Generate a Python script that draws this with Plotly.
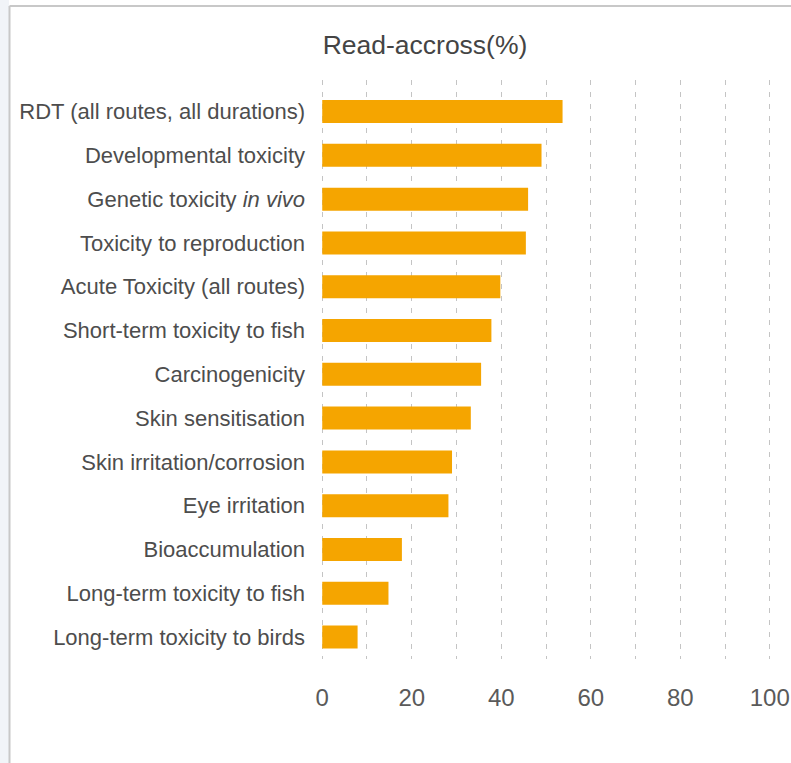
import plotly.graph_objects as go

categories = [
    "RDT (all routes, all durations)",
    "Developmental toxicity",
    "Genetic toxicity <i>in vivo</i>",
    "Toxicity to reproduction",
    "Acute Toxicity (all routes)",
    "Short-term toxicity to fish",
    "Carcinogenicity",
    "Skin sensitisation",
    "Skin irritation/corrosion",
    "Eye irritation",
    "Bioaccumulation",
    "Long-term toxicity to fish",
    "Long-term toxicity to birds",
]
values = [53.7, 49.0, 46.0, 45.5, 39.8, 37.8, 35.5, 33.2, 29.0, 28.2, 17.8, 14.8, 7.9]
x_tickvals = [0, 10, 20, 30, 40, 50, 60, 70, 80, 90, 100]
x_ticktext = ["0", "", "20", "", "40", "", "60", "", "80", "", "100"]
title_text = "Read-accross(%)"

FONT = "Liberation Sans"
TXT = "#4d4d4d"

fig = go.Figure(go.Bar(
    x=values, y=categories, orientation="h",
    marker=dict(color="#F5A500", line=dict(width=0)),
    hoverinfo="x+y",
))

# plot area: x 320..772 (0 at ~322, 100 at ~770), y 80..659
L, R, T, B = 320, 19, 80, 104
W, H = 791, 763
pw, ph = W - L - R, H - T - B

def px2paper_x(px):
    return (px - L) / pw

def py2paper_y(py):
    return (H - B - py) / ph

shapes = [
    dict(type="rect", xref="paper", yref="paper",
         x0=px2paper_x(0), x1=px2paper_x(9), y0=py2paper_y(763), y1=py2paper_y(0),
         fillcolor="#f1f4f8", line=dict(width=0), layer="below"),
    dict(type="line", xref="paper", yref="paper",
         x0=px2paper_x(9.5), x1=px2paper_x(9.5), y0=py2paper_y(764), y1=py2paper_y(6),
         line=dict(color="#c8c8c8", width=2)),
    dict(type="line", xref="paper", yref="paper",
         x0=px2paper_x(9.5), x1=px2paper_x(792), y0=py2paper_y(6), y1=py2paper_y(6),
         line=dict(color="#c8c8c8", width=2)),
]

fig.update_layout(
    width=W, height=H, autosize=False,
    margin=dict(l=L, r=R, t=T, b=B, pad=0, autoexpand=False),
    paper_bgcolor="white", plot_bgcolor="white",
    showlegend=False,
    bargap=0.475,
    font=dict(family=FONT, color=TXT, size=22),
    title=dict(text=title_text, x=425 / W, xref="container", xanchor="center",
               y=1 - 45 / H, yref="container", yanchor="middle",
               font=dict(family=FONT, size=26.5, color="#444444")),
    shapes=shapes,
    xaxis=dict(
        range=[-0.5, 100.5], tickvals=x_tickvals, ticktext=x_ticktext,
        showgrid=True, gridcolor="#c4c4c4", griddash="5px,7px", gridwidth=1,
        zeroline=False, showline=False, ticks="", automargin=False,
        tickfont=dict(family=FONT, size=24, color="#5a5a5a"),
        ticklabelstandoff=22,
    ),
    yaxis=dict(
        type="category", categoryorder="array", categoryarray=categories,
        range=[12.5, -0.72], automargin=False,
        showgrid=False, zeroline=False, showline=False, ticks="",
        tickfont=dict(family=FONT, size=22, color=TXT),
        ticklabelstandoff=14,
    ),
)

fig.write_html("out.html")
